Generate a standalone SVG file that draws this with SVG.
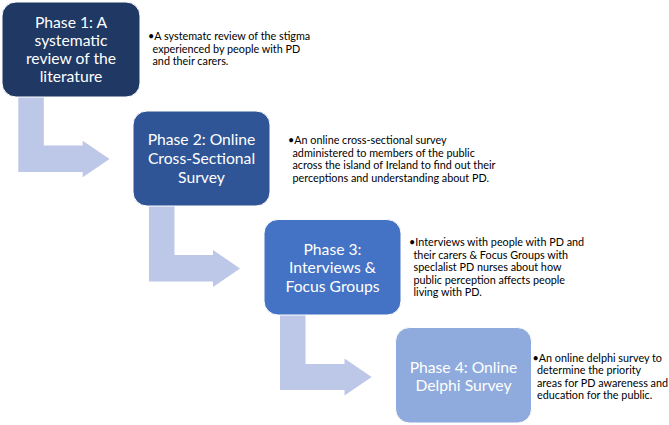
<svg xmlns="http://www.w3.org/2000/svg" width="669" height="425" viewBox="0 0 669 425">
<style>
.bg{fill:#ffffff}
.arrow{fill:#BDC7E7}
.box{stroke:#ffffff;stroke-width:1}
.title{font-family:"Lato","Open Sans","Liberation Sans",sans-serif;font-size:15.7px;fill:#ffffff;text-anchor:middle}
.desc{font-family:"Lato","Open Sans","Liberation Sans",sans-serif;font-size:10.8px;fill:#000000}
</style>
<rect class="bg" x="0" y="0" width="669" height="425"/>
<g id="connectors">
<path class="arrow" d="M18.3,97 H43.8 V145.5 H82.7 V140.8 L109.5,159 L82.7,177.3 V172 H18.3 Z"/>
<path class="arrow" d="M149,206 H174.5 V255 H213 V250 L240,268.5 L213,287 V281.5 H149 Z"/>
<path class="arrow" d="M280,315 H305.5 V364 H344.5 V358.5 L371.7,377 L344.5,395.5 V390 H280 Z"/>
</g>
<g id="phase1">
<rect class="box" x="2" y="2" width="138" height="95" rx="14" fill="#1F3864"/>
<text class="title"><tspan x="71" y="27.5">Phase 1: A</tspan><tspan x="71" y="45.8">systematic</tspan><tspan x="71" y="64.1">review of the</tspan><tspan x="71" y="82.4">literature</tspan></text>
</g>
<g id="phase1-text">
<text class="desc"><tspan x="148" y="39.8">•A systematc review of the stigma</tspan><tspan x="152.5" y="52.6">experienced by people with PD</tspan><tspan x="152.5" y="65.4">and their carers.</tspan></text>
</g>
<g id="phase2">
<rect class="box" x="133" y="111" width="137" height="95" rx="14" fill="#2F5597"/>
<text class="title"><tspan x="201.5" y="144.8">Phase 2: Online</tspan><tspan x="201.5" y="163.8">Cross-Sectional</tspan><tspan x="201.5" y="182.8">Survey</tspan></text>
</g>
<g id="phase2-text">
<text class="desc"><tspan x="288" y="143.8">•An online cross-sectional survey</tspan><tspan x="292.5" y="156.5">administered to members of the public</tspan><tspan x="292.5" y="169.3">across the island of Ireland to find out their</tspan><tspan x="292.5" y="181.9">perceptions and understanding about PD.</tspan></text>
</g>
<g id="phase3">
<rect class="box" x="264" y="219.5" width="137" height="95.5" rx="14" fill="#4472C4"/>
<text class="title"><tspan x="332.5" y="255">Phase 3:</tspan><tspan x="332.5" y="273.3">Interviews &amp;</tspan><tspan x="332.5" y="292">Focus Groups</tspan></text>
</g>
<g id="phase3-text">
<text class="desc"><tspan x="409" y="245.9">•Interviews with people with PD and</tspan><tspan x="413.5" y="258.5">their carers &amp; Focus Groups with</tspan><tspan x="413.5" y="271">speclalist PD nurses about how</tspan><tspan x="413.5" y="283.6">public perception affects people</tspan><tspan x="413.5" y="296.3">living with PD.</tspan></text>
</g>
<g id="phase4">
<rect class="box" x="395.5" y="327.5" width="136" height="95.5" rx="14" fill="#8FAADC"/>
<text class="title"><tspan x="463.5" y="372.5">Phase 4: Online</tspan><tspan x="463.5" y="391">Delphi Survey</tspan></text>
</g>
<g id="phase4-text">
<text class="desc"><tspan x="532.5" y="361.5">•An online delphi survey to</tspan><tspan x="537" y="374.2">determine the priority</tspan><tspan x="537" y="386.6">areas for PD awareness and</tspan><tspan x="537" y="399.2">education for the public.</tspan></text>
</g>
</svg>
